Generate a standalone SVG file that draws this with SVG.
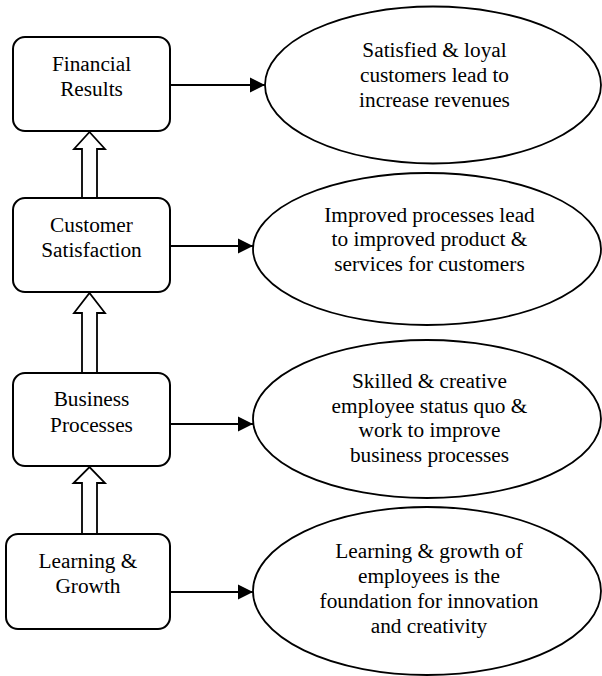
<svg xmlns="http://www.w3.org/2000/svg" width="602" height="676" viewBox="0 0 602 676">
  <defs>
    <marker id="head" markerUnits="userSpaceOnUse" markerWidth="16" markerHeight="16" viewBox="0 0 16 16" refX="15" refY="8" orient="auto">
      <path d="M0,0.5 L15,8 L0,15.5 Z" fill="#000"/>
    </marker>
  </defs>
  <style>
    .box { fill: #fff; stroke: #000; stroke-width: 2; }
    .oval { fill: #fff; stroke: #000; stroke-width: 1.8; }
    .txt { font-family: "Liberation Serif", "Times New Roman", serif; font-size: 21.3px; fill: #000; text-anchor: middle; }
    .link { stroke: #000; stroke-width: 2.2; fill: none; marker-end: url(#head); }
    .block { fill: #fff; stroke: #000; stroke-width: 1.8; stroke-linejoin: miter; }
  </style>

  <rect width="602" height="676" fill="#fff"/>

  <!-- perspective boxes -->
  <g id="financial">
    <rect class="box" x="13" y="37" width="157" height="94" rx="12"/>
    <text class="txt" x="91.5" y="71">Financial</text>
    <text class="txt" x="91.5" y="96">Results</text>
  </g>
  <g id="customer">
    <rect class="box" x="13" y="198" width="157" height="94" rx="12"/>
    <text class="txt" x="91.5" y="232">Customer</text>
    <text class="txt" x="91.5" y="257">Satisfaction</text>
  </g>
  <g id="business">
    <rect class="box" x="13" y="373" width="157" height="93" rx="12"/>
    <text class="txt" x="91.5" y="406">Business</text>
    <text class="txt" x="91.5" y="432">Processes</text>
  </g>
  <g id="learning">
    <rect class="box" x="6" y="534" width="164" height="95" rx="12"/>
    <text class="txt" x="88" y="568">Learning &amp;</text>
    <text class="txt" x="88" y="593">Growth</text>
  </g>

  <!-- explanation ovals -->
  <g id="note-financial">
    <ellipse class="oval" cx="433" cy="85" rx="168" ry="78.5"/>
    <text class="txt" x="434.5" y="57">Satisfied &amp; loyal</text>
    <text class="txt" x="434.5" y="82">customers lead to</text>
    <text class="txt" x="434.5" y="107">increase revenues</text>
  </g>
  <g id="note-customer">
    <ellipse class="oval" cx="427" cy="249" rx="174" ry="76"/>
    <text class="txt" x="429.5" y="222">Improved processes lead</text>
    <text class="txt" x="429.5" y="246">to improved product &amp;</text>
    <text class="txt" x="429.5" y="271">services for customers</text>
  </g>
  <g id="note-business">
    <ellipse class="oval" cx="427" cy="419" rx="174" ry="79"/>
    <text class="txt" x="429.5" y="388">Skilled &amp; creative</text>
    <text class="txt" x="429.5" y="413">employee status quo &amp;</text>
    <text class="txt" x="429.5" y="437">work to improve</text>
    <text class="txt" x="429.5" y="462">business processes</text>
  </g>
  <g id="note-learning">
    <ellipse class="oval" cx="427" cy="591" rx="174" ry="84"/>
    <text class="txt" x="429" y="558">Learning &amp; growth of</text>
    <text class="txt" x="429" y="583">employees is the</text>
    <text class="txt" x="429" y="608">foundation for innovation</text>
    <text class="txt" x="429" y="633">and creativity</text>
  </g>

  <!-- connectors -->
  <g id="connectors">
    <line class="link" x1="170" y1="85" x2="265" y2="85"/>
    <line class="link" x1="170" y1="246" x2="253" y2="246"/>
    <line class="link" x1="170" y1="424" x2="253" y2="424"/>
    <line class="link" x1="170" y1="592" x2="253" y2="592"/>
    <!-- hollow upward block arrows between the boxes -->
    <polygon class="block" points="82,198 82,149 74,149 89.5,132 105,149 97,149 97,198"/>
    <polygon class="block" points="82,373 82,313 74,313 89.5,293 105,313 97,313 97,373"/>
    <polygon class="block" points="82,534 82,483 73.5,483 89.5,467 105,483 97,483 97,534"/>
  </g>
</svg>
